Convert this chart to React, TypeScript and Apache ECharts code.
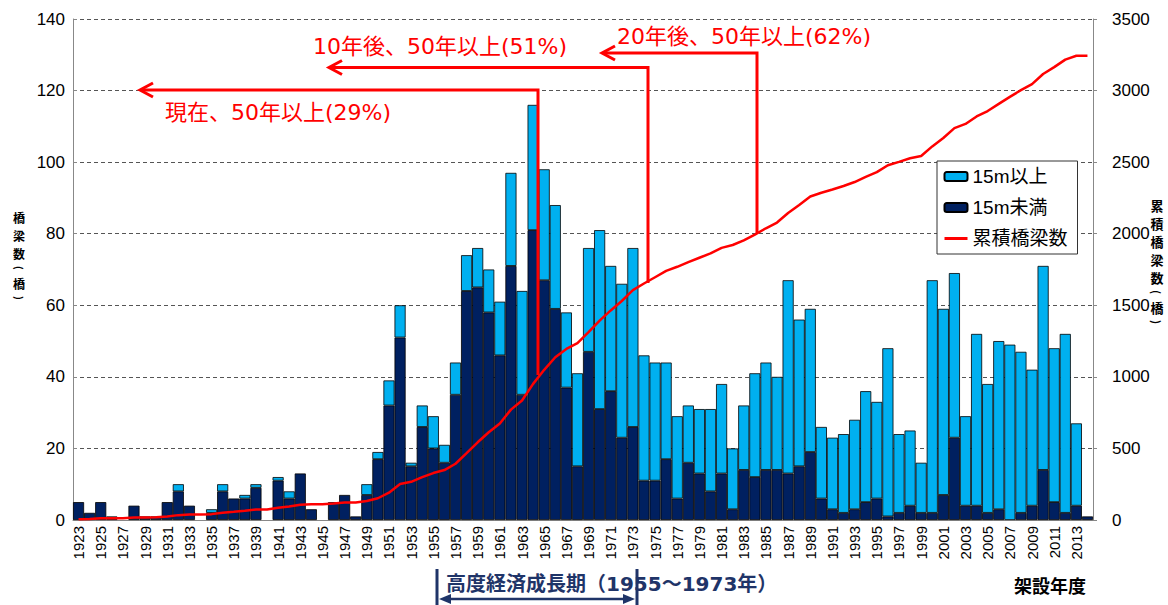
import React, { useEffect, useRef } from "react";
import * as echarts from "echarts";

const years = [
  "1923","1924","1925","1926","1927","1928","1929","1930","1931","1932",
  "1933","1934","1935","1936","1937","1938","1939","1940","1941","1942",
  "1943","1944","1945","1946","1947","1948","1949","1950","1951","1952",
  "1953","1954","1955","1956","1957","1958","1959","1960","1961","1962",
  "1963","1964","1965","1966","1967","1968","1969","1970","1971","1972",
  "1973","1974","1975","1976","1977","1978","1979","1980","1981","1982",
  "1983","1984","1985","1986","1987","1988","1989","1990","1991","1992",
  "1993","1994","1995","1996","1997","1998","1999","2000","2001","2002",
  "2003","2004","2005","2006","2007","2008","2009","2010","2011","2012",
  "2013","2014",
];

// 15m未満 (dark)
const under15 = [
  5, 2, 5, 1, 0, 4, 1, 1, 5, 8,
  4, 0, 2, 8, 6, 6, 9, 0, 11, 6,
  13, 3, 0, 5, 7, 1, 7, 17, 32, 51,
  15, 26, 20, 16, 35, 64, 65, 58, 46, 71,
  35, 81, 67, 59, 37, 15, 47, 31, 36, 23,
  26, 11, 11, 17, 6, 16, 13, 8, 13, 3,
  14, 12, 14, 14, 13, 15, 19, 6, 3, 2,
  3, 5, 6, 1, 2, 4, 2, 2, 7, 23,
  4, 4, 2, 3, 0, 2, 4, 14, 5, 2,
  4, 1,
];

// 15m以上 (light)
const over15 = [
  0, 0, 0, 0, 0, 0, 0, 0, 0, 2,
  0, 0, 1, 2, 0, 1, 1, 0, 1, 2,
  0, 0, 0, 0, 0, 0, 3, 2, 7, 9,
  1, 6, 9, 5, 9, 10, 11, 12, 15, 26,
  29, 35, 31, 29, 21, 26, 29, 50, 35, 43,
  50, 35, 33, 27, 23, 16, 18, 23, 25, 17,
  18, 29, 30, 26, 54, 41, 40, 20, 20, 22,
  25, 31, 27, 47, 22, 21, 14, 65, 52, 46,
  25, 48, 36, 47, 49, 45, 38, 57, 43, 50,
  23, 0,
];

// 累積橋梁数
const cumulative = [
  5, 7, 12, 13, 13, 17, 18, 19, 24, 34,
  38, 38, 41, 51, 57, 64, 74, 74, 86, 94,
  107, 110, 110, 115, 122, 123, 133, 152, 191, 251,
  267, 299, 328, 349, 393, 467, 543, 613, 674, 771,
  835, 951, 1049, 1137, 1195, 1236, 1312, 1393, 1464, 1530,
  1606, 1652, 1696, 1740, 1769, 1801, 1832, 1863, 1901, 1921,
  1953, 1994, 2038, 2078, 2145, 2201, 2260, 2286, 2309, 2333,
  2361, 2397, 2430, 2478, 2502, 2527, 2543, 2610, 2669, 2738,
  2767, 2819, 2857, 2907, 2956, 3003, 3045, 3116, 3164, 3216,
  3243, 3244,
];

const leftTitle = "橋梁数(橋)";
const rightTitle = "累積橋梁数(橋)";
const ann1 = "現在、50年以上(29%)";
const ann2 = "10年後、50年以上(51%)";
const ann3 = "20年後、50年以上(62%)";
const periodText = "高度経済成長期（1955～1973年）";
const xTitle = "架設年度";

const FONT = "'Liberation Sans', 'Noto Sans CJK JP', Arial, sans-serif";
const JFONT = "'Noto Sans CJK JP', sans-serif";
const AFONT = "'DejaVu Sans', 'Noto Sans CJK JP', sans-serif";
const RED = "#FF0000";
const NAVY = "#1F3468";

function verticalText(str: string, cx: number, y0: number, fs: number, step: number, pstep: number) {
  const out: any[] = [];
  let y = y0;
  for (const ch of Array.from(str)) {
    const isParen = ch === "(" || ch === ")";
    const h = isParen ? pstep : step;
    out.push({
      type: "text",
      z: 100,
      x: cx,
      y: y + h / 2,
      rotation: isParen ? -Math.PI / 2 : 0,
      style: {
        text: ch,
        x: 0,
        y: 0,
        align: "center",
        verticalAlign: "middle",
        fontSize: isParen ? fs - 2 : fs,
        lineHeight: isParen ? pstep : step,
        fontWeight: "bold",
        fontFamily: JFONT,
        fill: "#000",
      },
    });
    y += h;
  }
  return out;
}

function chevron(tipX: number, tipY: number) {
  return {
    type: "polyline",
    z: 100,
    shape: { points: [[tipX + 13, tipY - 7], [tipX, tipY], [tipX + 13, tipY + 7]] },
    style: { stroke: RED, lineWidth: 3, fill: null },
  };
}

function elbow(x: number, yBottom: number, yTop: number, xEnd: number) {
  return {
    type: "polyline",
    z: 100,
    shape: { points: [[x, yBottom], [x, yTop], [xEnd, yTop]] },
    style: { stroke: RED, lineWidth: 3, fill: null },
  };
}

function annText(text: string, x: number, y: number) {
  return {
    type: "text",
    z: 100,
    style: {
      text,
      x,
      y,
      align: "left",
      verticalAlign: "middle",
      fontSize: 22,
      fontFamily: AFONT,
      fill: RED,
    },
  };
}

export default function App() {
  const ref = useRef<HTMLDivElement>(null);

  useEffect(() => {
    if (!ref.current) return;
    const chart = echarts.init(ref.current, null, { renderer: "svg" });

    const graphic: any[] = [
      elbow(538, 375, 90, 141),
      chevron(140, 90),
      elbow(648, 283, 67.5, 330),
      chevron(329, 67.5),
      elbow(757, 233, 53, 603),
      chevron(602, 53),
      annText(ann1, 165, 112),
      annText(ann2, 313, 46),
      annText(ann3, 617, 36),
      {
        type: "line",
        z: 100,
        shape: { x1: 437, y1: 569, x2: 437, y2: 605 },
        style: { stroke: NAVY, lineWidth: 3 },
      },
      {
        type: "line",
        z: 100,
        shape: { x1: 637, y1: 569, x2: 637, y2: 605 },
        style: { stroke: NAVY, lineWidth: 3 },
      },
      {
        type: "line",
        z: 100,
        shape: { x1: 446, y1: 599, x2: 628, y2: 599 },
        style: { stroke: NAVY, lineWidth: 2.5 },
      },
      {
        type: "polygon",
        z: 100,
        shape: { points: [[439, 599], [451, 594], [451, 604]] },
        style: { fill: NAVY },
      },
      {
        type: "polygon",
        z: 100,
        shape: { points: [[635, 599], [623, 594], [623, 604]] },
        style: { fill: NAVY },
      },
      {
        type: "text",
        z: 100,
        style: {
          text: periodText,
          x: 446,
          y: 584,
          align: "left",
          verticalAlign: "middle",
          fontSize: 20,
          fontWeight: "bold",
          fontFamily: AFONT,
          fill: NAVY,
        },
      },
      {
        type: "text",
        z: 100,
        style: {
          text: xTitle,
          x: 1050,
          y: 585,
          align: "center",
          verticalAlign: "middle",
          fontSize: 18,
          fontWeight: "bold",
          fontFamily: JFONT,
          fill: "#000",
        },
      },
      ...verticalText(leftTitle, 19, 208, 12, 18, 12),
      ...verticalText(rightTitle, 1157, 196, 13, 18, 12),
    ];

    chart.setOption({
      animation: false,
      backgroundColor: "#fff",
      textStyle: { fontFamily: FONT },
      grid: { left: 73, right: 75, top: 19, bottom: 85, containLabel: false },
      legend: {
        orient: "vertical",
        left: 937,
        top: 161,
        data: [
          "15m以上",
          "15m未満",
          { name: "累積橋梁数", itemStyle: { opacity: 0 }, lineStyle: { color: RED, width: 3 } },
        ],
        itemWidth: 23,
        itemHeight: 9,
        itemGap: 12,
        padding: [6, 10, 6, 6],
        borderColor: "#333",
        borderWidth: 1,
        backgroundColor: "#fff",
        textStyle: { fontSize: 19, color: "#000", fontFamily: FONT },
        z: 50,
      },
      xAxis: {
        type: "category",
        data: years,
        boundaryGap: true,
        axisLine: { lineStyle: { color: "#888", width: 1 } },
        axisTick: { show: false },
        axisLabel: {
          rotate: 90,
          interval: 1,
          fontSize: 15,
          color: "#000",
          margin: 6,
          fontFamily: FONT,
        },
      },
      yAxis: [
        {
          type: "value",
          min: 0,
          max: 140,
          interval: 20,
          axisLine: { show: true, lineStyle: { color: "#888" } },
          axisTick: { show: true, inside: true, length: 4, lineStyle: { color: "#888" } },
          axisLabel: { fontSize: 17, color: "#000", margin: 8, fontFamily: FONT },
          splitLine: { show: true, lineStyle: { type: [4, 3], color: "#555", width: 1 } },
        },
        {
          type: "value",
          min: 0,
          max: 3500,
          interval: 500,
          position: "right",
          axisLine: { show: true, lineStyle: { color: "#888" } },
          axisTick: { show: true, length: 4, lineStyle: { color: "#888" } },
          axisLabel: {
            fontSize: 17,
            color: "#000",
            margin: 19,
            fontFamily: FONT,
            formatter: (v: number) => String(v),
          },
          splitLine: { show: false },
        },
      ],
      series: [
        {
          name: "15m未満",
          type: "bar",
          stack: "bridges",
          barCategoryGap: "0%",
          data: under15.map((v) => (v === 0 ? null : v)),
          itemStyle: { color: "#002060", borderColor: "#000", borderWidth: 0.8 },
          z: 2,
        },
        {
          name: "15m以上",
          type: "bar",
          stack: "bridges",
          barCategoryGap: "0%",
          data: over15.map((v) => (v === 0 ? null : v)),
          itemStyle: { color: "#00B0F0", borderColor: "#000", borderWidth: 0.8 },
          z: 2,
        },
        {
          name: "累積橋梁数",
          type: "line",
          yAxisIndex: 1,
          data: cumulative,
          symbol: "none",
          lineStyle: { color: RED, width: 2.5 },
          itemStyle: { color: RED },
          z: 5,
        },
      ],
      graphic,
    });

    return () => chart.dispose();
  }, []);

  return (
    <div
      ref={ref}
      style={{ position: "fixed", left: 0, top: 0, width: 1168, height: 605, background: "#fff" }}
    />
  );
}
